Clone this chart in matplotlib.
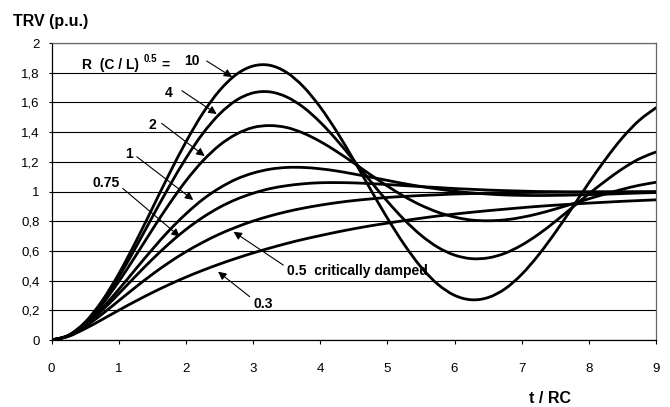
import numpy as np
import matplotlib
matplotlib.use("Agg")
import matplotlib.pyplot as plt
from matplotlib.path import Path
from matplotlib.patches import PathPatch

plt.rcParams['font.family'] = ['Liberation Sans', 'DejaVu Sans']

# time axis (t / RC), one sample every 0.25
t = np.linspace(0, 9, 37)

# TRV (p.u.) for each damping value R (C/L)^0.5
trv_10 = [0, 0.031, 0.120, 0.262, 0.445, 0.658, 0.886, 1.116, 1.333, 1.525, 1.679, 1.788, 1.845,
          1.850, 1.802, 1.706, 1.569, 1.401, 1.212, 1.014, 0.821, 0.644, 0.492, 0.376, 0.301,
          0.271, 0.286, 0.344, 0.442, 0.572, 0.724, 0.889, 1.058, 1.218, 1.362, 1.479, 1.564]
trv_4 = [0, 0.030, 0.117, 0.252, 0.424, 0.620, 0.828, 1.032, 1.223, 1.389, 1.521, 1.614, 1.664,
         1.671, 1.637, 1.567, 1.467, 1.345, 1.209, 1.069, 0.934, 0.811, 0.706, 0.625, 0.572,
         0.548, 0.553, 0.584, 0.639, 0.712, 0.798, 0.891, 0.984, 1.072, 1.153, 1.220, 1.266]
trv_2 = [0, 0.030, 0.113, 0.238, 0.393, 0.565, 0.743, 0.914, 1.071, 1.205, 1.311, 1.386, 1.431,
         1.444, 1.431, 1.393, 1.337, 1.268, 1.192, 1.113, 1.037, 0.967, 0.908, 0.861, 0.828,
         0.808, 0.803, 0.809, 0.826, 0.851, 0.882, 0.916, 0.951, 0.984, 1.015, 1.042, 1.062]
trv_1 = [0, 0.029, 0.104, 0.213, 0.340, 0.476, 0.610, 0.737, 0.849, 0.946, 1.023, 1.083, 1.124,
         1.150, 1.162, 1.162, 1.153, 1.138, 1.118, 1.097, 1.075, 1.053, 1.034, 1.017, 1.002,
         0.991, 0.983, 0.977, 0.974, 0.973, 0.974, 0.976, 0.979, 0.982, 0.986, 0.990, 0.993]
trv_075 = [0, 0.028, 0.099, 0.198, 0.311, 0.429, 0.543, 0.649, 0.744, 0.825, 0.893, 0.947, 0.988,
           1.019, 1.039, 1.052, 1.059, 1.060, 1.058, 1.053, 1.047, 1.040, 1.033, 1.027, 1.020,
           1.015, 1.010, 1.006, 1.003, 1.000, 0.999, 0.997, 0.997, 0.996, 0.996, 0.997, 0.997]
trv_05 = [0, 0.026, 0.090, 0.173, 0.264, 0.355, 0.442, 0.522, 0.594, 0.657, 0.713, 0.760, 0.801,
          0.835, 0.864, 0.888, 0.908, 0.925, 0.939, 0.950, 0.960, 0.967, 0.973, 0.978, 0.983,
          0.986, 0.989, 0.991, 0.993, 0.994, 0.995, 0.996, 0.997, 0.998, 0.998, 0.998, 0.999]
trv_03 = [0, 0.024, 0.076, 0.137, 0.200, 0.261, 0.319, 0.373, 0.423, 0.469, 0.511, 0.550, 0.586,
          0.619, 0.650, 0.678, 0.703, 0.727, 0.749, 0.769, 0.787, 0.804, 0.820, 0.835, 0.848,
          0.860, 0.871, 0.881, 0.891, 0.900, 0.908, 0.915, 0.922, 0.928, 0.934, 0.939, 0.944]

x_ticks = list(range(10))
y_ticks = [0, 0.2, 0.4, 0.6, 0.8, 1.0, 1.2, 1.4, 1.6, 1.8, 2.0]
y_tick_labels = ['0', '0,2', '0,4', '0,6', '0,8', '1', '1,2', '1,4', '1,6', '1,8', '2']


def smooth_line(ax, x, y, **kw):
    # smoothed line (bezier segments through every sample, like a spreadsheet "smoothed line")
    x = np.asarray(x, float)
    y = np.asarray(y, float)
    verts = [(x[0], y[0])]
    codes = [Path.MOVETO]
    n = len(x)
    for i in range(n - 1):
        x0, y0 = (x[i - 1], y[i - 1]) if i > 0 else (x[i], y[i])
        x3, y3 = (x[i + 2], y[i + 2]) if i + 2 < n else (x[i + 1], y[i + 1])
        c1 = (x[i] + (x[i + 1] - x0) / 6, y[i] + (y[i + 1] - y0) / 6)
        c2 = (x[i + 1] - (x3 - x[i]) / 6, y[i + 1] - (y3 - y[i]) / 6)
        verts += [c1, c2, (x[i + 1], y[i + 1])]
        codes += [Path.CURVE4] * 3
    ax.add_patch(PathPatch(Path(verts, codes), fill=False, **kw))


fig = plt.figure(figsize=(6.7, 4.07), dpi=100)
ax = fig.add_axes([0.0769, 0.1646, 0.9022, 0.7297])

for y in [trv_10, trv_4, trv_2, trv_1, trv_075, trv_05, trv_03]:
    smooth_line(ax, t, y, edgecolor='black', lw=2.0, capstyle='round', zorder=3)

ax.set_xlim(0, 9)
ax.set_ylim(0, 2)
ax.set_xticks(x_ticks)
ax.set_yticks(y_ticks)
ax.set_yticklabels(y_tick_labels)
ax.yaxis.grid(True, color='black', lw=0.8)
ax.set_axisbelow(True)
ax.tick_params(axis='x', direction='out', length=3, width=0.8, pad=13.5, labelsize=9.5)
ax.tick_params(axis='y', direction='out', length=2.5, width=0.8, pad=6, labelsize=9.5)
for side in ['left', 'bottom']:
    ax.spines[side].set_color('black')
    ax.spines[side].set_linewidth(0.9)
for side in ['top', 'right']:
    ax.spines[side].set_color('#666666')
    ax.spines[side].set_linewidth(0.9)

fig.text(0.019, 0.946, 'TRV (p.u.)', fontsize=11.5, fontweight='bold', va='center', ha='left')
fig.text(0.821, 0.020, 't / RC', fontsize=11.5, fontweight='bold', va='center', ha='center')

# curve labels
lab = dict(fontsize=10, fontweight='bold', va='baseline', ha='left')
ax.text(0.45, 1.825, 'R  (C / L)', **lab)
ax.text(1.37, 1.872, '0.5', fontsize=7, fontweight='bold', va='baseline', ha='left')
ax.text(1.63, 1.825, '=', **lab)

arrow = dict(arrowstyle='-|>', color='black', lw=0.8, mutation_scale=12, shrinkA=0, shrinkB=0)
labels = [
    ('10', (1.97, 1.850), (2.31, 1.879), (2.69, 1.771)),
    ('4', (1.69, 1.636), (1.94, 1.679), (2.46, 1.522)),
    ('2', (1.44, 1.423), (1.64, 1.459), (2.28, 1.239)),
    ('1', (1.09, 1.226), (1.27, 1.234), (2.11, 0.943)),
    ('0.75', (0.61, 1.032), (1.06, 1.021), (1.91, 0.696)),
    ('0.5  critically damped', (3.50, 0.438), (3.45, 0.505), (2.71, 0.729)),
    ('0.3', (3.00, 0.215), (2.95, 0.292), (2.48, 0.460)),
]
for text, pos, tail, head in labels:
    ax.text(pos[0], pos[1], text, **lab)
    ax.annotate('', xy=head, xytext=tail, arrowprops=arrow)

fig.savefig('out.png', dpi=100)
